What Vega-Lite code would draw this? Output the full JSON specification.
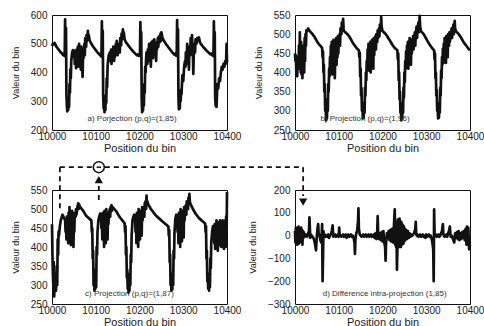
{
"$schema": "https://vega.github.io/schema/vega-lite/v6.json",
"background": "white",
"padding": {"left": 10, "top": 9, "right": 0, "bottom": 0},
"bounds": "flush",
"columns": 2,
"spacing": {"row": 60, "column": 68},
"config": {
 "view": {"stroke": "#111", "strokeWidth": 1},
 "axis": {"grid": false, "ticks": false, "domain": false, "labelFont": "Liberation Sans", "labelFontSize": 10, "labelColor": "#222", "titleFont": "Liberation Sans", "titleFontWeight": "normal", "titleColor": "#222", "format": "d", "labelFlush": false, "labelOverlap": false},
 "axisX": {"titleFontSize": 11, "labelPadding": 1, "titlePadding": 1},
 "axisY": {"titleFontSize": 9, "labelPadding": 5, "titlePadding": 10, "labelOverlap": false}
},
"datasets": {
"a": [{"x":10000,"y":492},{"x":10002,"y":500},{"x":10004,"y":498},{"x":10006,"y":503},{"x":10008,"y":497},{"x":10010,"y":490},{"x":10012,"y":486},{"x":10014,"y":482},{"x":10016,"y":478},{"x":10018,"y":474},{"x":10020,"y":470},{"x":10022,"y":468},{"x":10024,"y":463},{"x":10026,"y":460},{"x":10028,"y":466},{"x":10029,"y":457},{"x":10030,"y":585},{"x":10031,"y":470},{"x":10032,"y":555},{"x":10033,"y":320},{"x":10034,"y":285},{"x":10035,"y":265},{"x":10036,"y":310},{"x":10037,"y":270},{"x":10038,"y":300},{"x":10039,"y":280},{"x":10040,"y":360},{"x":10041,"y":330},{"x":10042,"y":410},{"x":10043,"y":380},{"x":10044,"y":440},{"x":10046,"y":470},{"x":10048,"y":478},{"x":10050,"y":455},{"x":10051,"y":475},{"x":10052,"y":430},{"x":10054,"y":470},{"x":10055,"y":415},{"x":10056,"y":480},{"x":10058,"y":420},{"x":10059,"y":490},{"x":10060,"y":445},{"x":10062,"y":500},{"x":10063,"y":420},{"x":10064,"y":470},{"x":10066,"y":410},{"x":10067,"y":490},{"x":10068,"y":440},{"x":10070,"y":385},{"x":10071,"y":470},{"x":10072,"y":450},{"x":10074,"y":500},{"x":10075,"y":460},{"x":10076,"y":520},{"x":10078,"y":490},{"x":10079,"y":530},{"x":10080,"y":510},{"x":10082,"y":545},{"x":10083,"y":515},{"x":10084,"y":530},{"x":10086,"y":512},{"x":10088,"y":505},{"x":10090,"y":500},{"x":10092,"y":495},{"x":10094,"y":490},{"x":10096,"y":486},{"x":10098,"y":482},{"x":10100,"y":478},{"x":10102,"y":474},{"x":10104,"y":470},{"x":10106,"y":467},{"x":10108,"y":463},{"x":10110,"y":460},{"x":10112,"y":462},{"x":10113,"y":455},{"x":10114,"y":578},{"x":10115,"y":470},{"x":10116,"y":545},{"x":10117,"y":320},{"x":10118,"y":275},{"x":10119,"y":300},{"x":10120,"y":262},{"x":10121,"y":310},{"x":10122,"y":270},{"x":10123,"y":320},{"x":10124,"y":295},{"x":10125,"y":380},{"x":10126,"y":350},{"x":10127,"y":420},{"x":10128,"y":440},{"x":10130,"y":462},{"x":10131,"y":440},{"x":10132,"y":470},{"x":10134,"y":445},{"x":10135,"y":480},{"x":10136,"y":430},{"x":10138,"y":475},{"x":10139,"y":450},{"x":10140,"y":490},{"x":10142,"y":440},{"x":10143,"y":485},{"x":10144,"y":455},{"x":10146,"y":500},{"x":10147,"y":470},{"x":10148,"y":510},{"x":10150,"y":460},{"x":10151,"y":495},{"x":10152,"y":480},{"x":10154,"y":500},{"x":10155,"y":470},{"x":10156,"y":520},{"x":10158,"y":495},{"x":10159,"y":535},{"x":10160,"y":515},{"x":10162,"y":550},{"x":10163,"y":520},{"x":10164,"y":540},{"x":10166,"y":515},{"x":10168,"y":508},{"x":10170,"y":503},{"x":10172,"y":499},{"x":10174,"y":495},{"x":10176,"y":491},{"x":10178,"y":487},{"x":10180,"y":483},{"x":10182,"y":479},{"x":10184,"y":476},{"x":10186,"y":472},{"x":10188,"y":469},{"x":10190,"y":466},{"x":10192,"y":463},{"x":10194,"y":460},{"x":10196,"y":463},{"x":10198,"y":458},{"x":10200,"y":460},{"x":10201,"y":458},{"x":10202,"y":575},{"x":10203,"y":470},{"x":10204,"y":540},{"x":10205,"y":310},{"x":10206,"y":262},{"x":10207,"y":300},{"x":10208,"y":268},{"x":10209,"y":320},{"x":10210,"y":285},{"x":10211,"y":360},{"x":10212,"y":330},{"x":10213,"y":420},{"x":10214,"y":400},{"x":10215,"y":445},{"x":10216,"y":470},{"x":10218,"y":430},{"x":10219,"y":480},{"x":10220,"y":455},{"x":10222,"y":500},{"x":10223,"y":440},{"x":10224,"y":485},{"x":10226,"y":420},{"x":10227,"y":505},{"x":10228,"y":470},{"x":10230,"y":510},{"x":10231,"y":450},{"x":10232,"y":490},{"x":10234,"y":515},{"x":10235,"y":470},{"x":10236,"y":500},{"x":10238,"y":440},{"x":10239,"y":505},{"x":10240,"y":480},{"x":10242,"y":520},{"x":10243,"y":490},{"x":10244,"y":525},{"x":10246,"y":505},{"x":10248,"y":535},{"x":10249,"y":510},{"x":10250,"y":540},{"x":10252,"y":525},{"x":10254,"y":515},{"x":10256,"y":510},{"x":10258,"y":505},{"x":10260,"y":500},{"x":10262,"y":496},{"x":10264,"y":492},{"x":10266,"y":488},{"x":10268,"y":484},{"x":10270,"y":480},{"x":10272,"y":476},{"x":10274,"y":472},{"x":10276,"y":468},{"x":10278,"y":465},{"x":10280,"y":462},{"x":10282,"y":466},{"x":10284,"y":458},{"x":10285,"y":460},{"x":10286,"y":582},{"x":10287,"y":470},{"x":10288,"y":550},{"x":10289,"y":320},{"x":10290,"y":272},{"x":10291,"y":310},{"x":10292,"y":275},{"x":10293,"y":330},{"x":10294,"y":300},{"x":10295,"y":340},{"x":10296,"y":325},{"x":10298,"y":390},{"x":10300,"y":370},{"x":10302,"y":420},{"x":10304,"y":440},{"x":10305,"y":420},{"x":10306,"y":470},{"x":10308,"y":430},{"x":10309,"y":500},{"x":10310,"y":445},{"x":10312,"y":480},{"x":10313,"y":410},{"x":10314,"y":490},{"x":10316,"y":460},{"x":10317,"y":520},{"x":10318,"y":480},{"x":10320,"y":530},{"x":10321,"y":490},{"x":10322,"y":470},{"x":10323,"y":395},{"x":10324,"y":460},{"x":10326,"y":500},{"x":10327,"y":470},{"x":10328,"y":515},{"x":10330,"y":500},{"x":10332,"y":520},{"x":10334,"y":510},{"x":10336,"y":522},{"x":10338,"y":505},{"x":10340,"y":500},{"x":10342,"y":496},{"x":10344,"y":492},{"x":10346,"y":488},{"x":10348,"y":485},{"x":10350,"y":482},{"x":10352,"y":478},{"x":10354,"y":475},{"x":10356,"y":472},{"x":10358,"y":469},{"x":10360,"y":466},{"x":10362,"y":463},{"x":10364,"y":466},{"x":10366,"y":460},{"x":10368,"y":462},{"x":10369,"y":457},{"x":10370,"y":578},{"x":10371,"y":470},{"x":10372,"y":540},{"x":10373,"y":310},{"x":10374,"y":285},{"x":10375,"y":330},{"x":10376,"y":280},{"x":10377,"y":320},{"x":10378,"y":360},{"x":10380,"y":345},{"x":10382,"y":380},{"x":10384,"y":370},{"x":10386,"y":400},{"x":10388,"y":420},{"x":10390,"y":410},{"x":10392,"y":430},{"x":10394,"y":420},{"x":10396,"y":440},{"x":10397,"y":430},{"x":10398,"y":440},{"x":10399,"y":500},{"x":10400,"y":435}],
"b": [{"x":10000,"y":450},{"x":10001,"y":430},{"x":10002,"y":445},{"x":10003,"y":400},{"x":10004,"y":430},{"x":10005,"y":390},{"x":10006,"y":440},{"x":10008,"y":410},{"x":10009,"y":470},{"x":10010,"y":420},{"x":10011,"y":505},{"x":10012,"y":440},{"x":10013,"y":400},{"x":10014,"y":480},{"x":10015,"y":395},{"x":10016,"y":470},{"x":10017,"y":385},{"x":10018,"y":450},{"x":10019,"y":410},{"x":10020,"y":470},{"x":10021,"y":400},{"x":10022,"y":490},{"x":10023,"y":430},{"x":10024,"y":500},{"x":10025,"y":470},{"x":10026,"y":510},{"x":10028,"y":508},{"x":10030,"y":515},{"x":10032,"y":510},{"x":10034,"y":508},{"x":10036,"y":505},{"x":10038,"y":503},{"x":10040,"y":500},{"x":10042,"y":497},{"x":10044,"y":494},{"x":10046,"y":490},{"x":10048,"y":486},{"x":10050,"y":482},{"x":10052,"y":478},{"x":10054,"y":475},{"x":10056,"y":472},{"x":10058,"y":470},{"x":10060,"y":467},{"x":10062,"y":464},{"x":10063,"y":440},{"x":10064,"y":455},{"x":10065,"y":400},{"x":10066,"y":420},{"x":10067,"y":350},{"x":10068,"y":370},{"x":10069,"y":300},{"x":10070,"y":320},{"x":10071,"y":275},{"x":10072,"y":295},{"x":10073,"y":280},{"x":10074,"y":330},{"x":10075,"y":300},{"x":10076,"y":370},{"x":10077,"y":350},{"x":10078,"y":410},{"x":10079,"y":390},{"x":10080,"y":440},{"x":10081,"y":420},{"x":10082,"y":470},{"x":10083,"y":410},{"x":10084,"y":480},{"x":10085,"y":395},{"x":10086,"y":460},{"x":10087,"y":420},{"x":10088,"y":485},{"x":10089,"y":400},{"x":10090,"y":470},{"x":10091,"y":385},{"x":10092,"y":450},{"x":10093,"y":430},{"x":10094,"y":490},{"x":10095,"y":420},{"x":10096,"y":475},{"x":10097,"y":440},{"x":10098,"y":495},{"x":10099,"y":450},{"x":10100,"y":480},{"x":10102,"y":500},{"x":10103,"y":470},{"x":10104,"y":515},{"x":10106,"y":500},{"x":10107,"y":530},{"x":10108,"y":510},{"x":10110,"y":540},{"x":10111,"y":515},{"x":10112,"y":508},{"x":10114,"y":506},{"x":10116,"y":504},{"x":10118,"y":502},{"x":10120,"y":500},{"x":10122,"y":497},{"x":10124,"y":494},{"x":10126,"y":490},{"x":10128,"y":486},{"x":10130,"y":482},{"x":10132,"y":478},{"x":10134,"y":474},{"x":10136,"y":471},{"x":10138,"y":468},{"x":10140,"y":465},{"x":10142,"y":462},{"x":10144,"y":460},{"x":10146,"y":458},{"x":10147,"y":440},{"x":10148,"y":452},{"x":10149,"y":390},{"x":10150,"y":410},{"x":10151,"y":340},{"x":10152,"y":360},{"x":10153,"y":300},{"x":10154,"y":320},{"x":10155,"y":280},{"x":10156,"y":300},{"x":10157,"y":282},{"x":10158,"y":320},{"x":10159,"y":295},{"x":10160,"y":360},{"x":10161,"y":340},{"x":10162,"y":400},{"x":10163,"y":380},{"x":10164,"y":430},{"x":10165,"y":410},{"x":10166,"y":460},{"x":10167,"y":420},{"x":10168,"y":475},{"x":10169,"y":405},{"x":10170,"y":470},{"x":10171,"y":430},{"x":10172,"y":480},{"x":10173,"y":400},{"x":10174,"y":465},{"x":10175,"y":420},{"x":10176,"y":485},{"x":10177,"y":440},{"x":10178,"y":470},{"x":10179,"y":410},{"x":10180,"y":490},{"x":10181,"y":445},{"x":10182,"y":475},{"x":10184,"y":495},{"x":10185,"y":460},{"x":10186,"y":500},{"x":10188,"y":480},{"x":10189,"y":510},{"x":10190,"y":490},{"x":10192,"y":515},{"x":10193,"y":495},{"x":10194,"y":525},{"x":10196,"y":510},{"x":10197,"y":545},{"x":10198,"y":520},{"x":10200,"y":508},{"x":10202,"y":506},{"x":10204,"y":504},{"x":10206,"y":502},{"x":10208,"y":499},{"x":10210,"y":496},{"x":10212,"y":492},{"x":10214,"y":488},{"x":10216,"y":485},{"x":10218,"y":481},{"x":10220,"y":477},{"x":10222,"y":473},{"x":10224,"y":470},{"x":10226,"y":467},{"x":10228,"y":464},{"x":10230,"y":462},{"x":10232,"y":460},{"x":10234,"y":458},{"x":10235,"y":435},{"x":10236,"y":450},{"x":10237,"y":380},{"x":10238,"y":400},{"x":10239,"y":330},{"x":10240,"y":350},{"x":10241,"y":295},{"x":10242,"y":310},{"x":10243,"y":275},{"x":10244,"y":295},{"x":10245,"y":280},{"x":10246,"y":320},{"x":10247,"y":295},{"x":10248,"y":360},{"x":10249,"y":335},{"x":10250,"y":400},{"x":10251,"y":375},{"x":10252,"y":430},{"x":10253,"y":410},{"x":10254,"y":455},{"x":10255,"y":415},{"x":10256,"y":470},{"x":10257,"y":420},{"x":10258,"y":480},{"x":10259,"y":410},{"x":10260,"y":465},{"x":10261,"y":430},{"x":10262,"y":490},{"x":10263,"y":440},{"x":10264,"y":475},{"x":10265,"y":420},{"x":10266,"y":485},{"x":10267,"y":450},{"x":10268,"y":470},{"x":10270,"y":495},{"x":10271,"y":460},{"x":10272,"y":490},{"x":10274,"y":505},{"x":10275,"y":470},{"x":10276,"y":500},{"x":10278,"y":520},{"x":10279,"y":490},{"x":10280,"y":510},{"x":10282,"y":530},{"x":10283,"y":505},{"x":10285,"y":548},{"x":10286,"y":520},{"x":10288,"y":508},{"x":10290,"y":505},{"x":10292,"y":503},{"x":10294,"y":500},{"x":10296,"y":496},{"x":10298,"y":492},{"x":10300,"y":488},{"x":10302,"y":484},{"x":10304,"y":480},{"x":10306,"y":476},{"x":10308,"y":472},{"x":10310,"y":469},{"x":10312,"y":466},{"x":10314,"y":463},{"x":10316,"y":460},{"x":10318,"y":458},{"x":10319,"y":435},{"x":10320,"y":450},{"x":10321,"y":385},{"x":10322,"y":400},{"x":10323,"y":340},{"x":10324,"y":355},{"x":10325,"y":300},{"x":10326,"y":315},{"x":10327,"y":280},{"x":10328,"y":298},{"x":10329,"y":282},{"x":10330,"y":320},{"x":10331,"y":296},{"x":10332,"y":360},{"x":10333,"y":340},{"x":10334,"y":405},{"x":10335,"y":385},{"x":10336,"y":440},{"x":10337,"y":420},{"x":10338,"y":462},{"x":10339,"y":425},{"x":10340,"y":475},{"x":10341,"y":430},{"x":10342,"y":490},{"x":10343,"y":445},{"x":10344,"y":480},{"x":10345,"y":425},{"x":10346,"y":495},{"x":10347,"y":460},{"x":10348,"y":485},{"x":10349,"y":440},{"x":10350,"y":500},{"x":10352,"y":470},{"x":10353,"y":505},{"x":10354,"y":480},{"x":10356,"y":500},{"x":10358,"y":515},{"x":10359,"y":490},{"x":10360,"y":510},{"x":10362,"y":525},{"x":10363,"y":500},{"x":10365,"y":535},{"x":10366,"y":515},{"x":10368,"y":507},{"x":10370,"y":505},{"x":10372,"y":503},{"x":10374,"y":500},{"x":10376,"y":497},{"x":10378,"y":494},{"x":10380,"y":490},{"x":10382,"y":486},{"x":10384,"y":482},{"x":10386,"y":478},{"x":10388,"y":475},{"x":10390,"y":472},{"x":10392,"y":469},{"x":10394,"y":466},{"x":10396,"y":463},{"x":10398,"y":460},{"x":10400,"y":458}],
"c": [{"x":10000,"y":460},{"x":10001,"y":380},{"x":10002,"y":330},{"x":10003,"y":300},{"x":10004,"y":360},{"x":10005,"y":270},{"x":10006,"y":300},{"x":10007,"y":290},{"x":10008,"y":330},{"x":10009,"y":285},{"x":10010,"y":300},{"x":10011,"y":350},{"x":10012,"y":300},{"x":10013,"y":420},{"x":10014,"y":380},{"x":10015,"y":440},{"x":10016,"y":430},{"x":10018,"y":455},{"x":10020,"y":470},{"x":10022,"y":478},{"x":10024,"y":485},{"x":10026,"y":480},{"x":10028,"y":475},{"x":10030,"y":470},{"x":10031,"y":440},{"x":10032,"y":460},{"x":10033,"y":420},{"x":10034,"y":480},{"x":10035,"y":430},{"x":10036,"y":470},{"x":10037,"y":410},{"x":10038,"y":490},{"x":10039,"y":440},{"x":10040,"y":505},{"x":10041,"y":450},{"x":10042,"y":470},{"x":10043,"y":405},{"x":10044,"y":480},{"x":10045,"y":430},{"x":10046,"y":495},{"x":10047,"y":460},{"x":10048,"y":485},{"x":10049,"y":400},{"x":10050,"y":470},{"x":10051,"y":440},{"x":10052,"y":490},{"x":10054,"y":480},{"x":10055,"y":500},{"x":10056,"y":485},{"x":10058,"y":505},{"x":10060,"y":515},{"x":10061,"y":500},{"x":10062,"y":512},{"x":10064,"y":505},{"x":10066,"y":503},{"x":10068,"y":500},{"x":10070,"y":497},{"x":10072,"y":494},{"x":10074,"y":490},{"x":10076,"y":486},{"x":10078,"y":482},{"x":10080,"y":480},{"x":10082,"y":478},{"x":10084,"y":476},{"x":10086,"y":474},{"x":10088,"y":472},{"x":10090,"y":470},{"x":10091,"y":440},{"x":10092,"y":450},{"x":10093,"y":370},{"x":10094,"y":390},{"x":10095,"y":300},{"x":10096,"y":320},{"x":10097,"y":285},{"x":10098,"y":310},{"x":10099,"y":290},{"x":10100,"y":340},{"x":10101,"y":295},{"x":10102,"y":400},{"x":10103,"y":380},{"x":10104,"y":440},{"x":10106,"y":470},{"x":10108,"y":480},{"x":10110,"y":488},{"x":10112,"y":482},{"x":10113,"y":450},{"x":10114,"y":470},{"x":10115,"y":420},{"x":10116,"y":490},{"x":10117,"y":430},{"x":10118,"y":475},{"x":10119,"y":400},{"x":10120,"y":495},{"x":10121,"y":440},{"x":10122,"y":480},{"x":10123,"y":410},{"x":10124,"y":500},{"x":10125,"y":445},{"x":10126,"y":470},{"x":10127,"y":420},{"x":10128,"y":490},{"x":10129,"y":460},{"x":10130,"y":485},{"x":10132,"y":500},{"x":10133,"y":480},{"x":10134,"y":505},{"x":10136,"y":510},{"x":10137,"y":495},{"x":10138,"y":505},{"x":10140,"y":503},{"x":10142,"y":500},{"x":10144,"y":498},{"x":10146,"y":495},{"x":10148,"y":492},{"x":10150,"y":488},{"x":10152,"y":484},{"x":10154,"y":480},{"x":10156,"y":477},{"x":10158,"y":474},{"x":10160,"y":471},{"x":10162,"y":468},{"x":10164,"y":465},{"x":10166,"y":462},{"x":10167,"y":440},{"x":10168,"y":455},{"x":10169,"y":380},{"x":10170,"y":400},{"x":10171,"y":320},{"x":10172,"y":340},{"x":10173,"y":290},{"x":10174,"y":310},{"x":10175,"y":280},{"x":10176,"y":300},{"x":10177,"y":285},{"x":10178,"y":330},{"x":10179,"y":300},{"x":10180,"y":380},{"x":10181,"y":360},{"x":10182,"y":430},{"x":10184,"y":470},{"x":10186,"y":480},{"x":10188,"y":485},{"x":10190,"y":478},{"x":10191,"y":440},{"x":10192,"y":470},{"x":10193,"y":410},{"x":10194,"y":490},{"x":10195,"y":430},{"x":10196,"y":480},{"x":10197,"y":400},{"x":10198,"y":500},{"x":10199,"y":445},{"x":10200,"y":475},{"x":10201,"y":420},{"x":10202,"y":495},{"x":10203,"y":450},{"x":10204,"y":485},{"x":10205,"y":430},{"x":10206,"y":505},{"x":10207,"y":470},{"x":10208,"y":490},{"x":10210,"y":505},{"x":10211,"y":480},{"x":10212,"y":515},{"x":10214,"y":520},{"x":10215,"y":500},{"x":10216,"y":535},{"x":10217,"y":515},{"x":10218,"y":520},{"x":10220,"y":512},{"x":10222,"y":508},{"x":10224,"y":504},{"x":10226,"y":500},{"x":10228,"y":497},{"x":10230,"y":494},{"x":10232,"y":491},{"x":10234,"y":488},{"x":10236,"y":485},{"x":10238,"y":482},{"x":10240,"y":480},{"x":10242,"y":478},{"x":10244,"y":476},{"x":10246,"y":474},{"x":10248,"y":472},{"x":10250,"y":470},{"x":10252,"y":468},{"x":10254,"y":466},{"x":10256,"y":464},{"x":10258,"y":462},{"x":10260,"y":460},{"x":10262,"y":458},{"x":10264,"y":456},{"x":10266,"y":454},{"x":10267,"y":430},{"x":10268,"y":445},{"x":10269,"y":360},{"x":10270,"y":380},{"x":10271,"y":300},{"x":10272,"y":320},{"x":10273,"y":285},{"x":10274,"y":305},{"x":10275,"y":288},{"x":10276,"y":330},{"x":10277,"y":300},{"x":10278,"y":390},{"x":10279,"y":370},{"x":10280,"y":440},{"x":10282,"y":475},{"x":10284,"y":485},{"x":10286,"y":480},{"x":10287,"y":440},{"x":10288,"y":475},{"x":10289,"y":410},{"x":10290,"y":490},{"x":10291,"y":430},{"x":10292,"y":480},{"x":10293,"y":400},{"x":10294,"y":500},{"x":10295,"y":445},{"x":10296,"y":470},{"x":10297,"y":415},{"x":10298,"y":495},{"x":10299,"y":455},{"x":10300,"y":480},{"x":10301,"y":425},{"x":10302,"y":505},{"x":10303,"y":470},{"x":10304,"y":490},{"x":10306,"y":510},{"x":10307,"y":485},{"x":10308,"y":520},{"x":10310,"y":515},{"x":10311,"y":500},{"x":10312,"y":530},{"x":10313,"y":515},{"x":10314,"y":540},{"x":10315,"y":520},{"x":10316,"y":515},{"x":10318,"y":510},{"x":10320,"y":505},{"x":10322,"y":500},{"x":10324,"y":496},{"x":10326,"y":492},{"x":10328,"y":488},{"x":10330,"y":485},{"x":10332,"y":482},{"x":10334,"y":479},{"x":10336,"y":476},{"x":10338,"y":474},{"x":10340,"y":472},{"x":10342,"y":470},{"x":10344,"y":468},{"x":10346,"y":466},{"x":10348,"y":464},{"x":10350,"y":462},{"x":10351,"y":440},{"x":10352,"y":455},{"x":10353,"y":370},{"x":10354,"y":390},{"x":10355,"y":310},{"x":10356,"y":330},{"x":10357,"y":290},{"x":10358,"y":305},{"x":10359,"y":285},{"x":10360,"y":320},{"x":10361,"y":295},{"x":10362,"y":370},{"x":10363,"y":345},{"x":10364,"y":410},{"x":10366,"y":440},{"x":10368,"y":455},{"x":10370,"y":445},{"x":10371,"y":410},{"x":10372,"y":460},{"x":10373,"y":395},{"x":10374,"y":450},{"x":10375,"y":420},{"x":10376,"y":470},{"x":10377,"y":400},{"x":10378,"y":455},{"x":10379,"y":390},{"x":10380,"y":465},{"x":10381,"y":430},{"x":10382,"y":460},{"x":10383,"y":405},{"x":10384,"y":470},{"x":10385,"y":440},{"x":10386,"y":455},{"x":10387,"y":400},{"x":10388,"y":465},{"x":10389,"y":430},{"x":10390,"y":470},{"x":10391,"y":420},{"x":10392,"y":460},{"x":10393,"y":395},{"x":10394,"y":450},{"x":10395,"y":430},{"x":10396,"y":470},{"x":10397,"y":400},{"x":10398,"y":480},{"x":10399,"y":420},{"x":10400,"y":545}],
"d": [{"x":10000,"y":20},{"x":10001,"y":-30},{"x":10002,"y":35},{"x":10003,"y":-25},{"x":10004,"y":30},{"x":10005,"y":-40},{"x":10006,"y":25},{"x":10007,"y":-20},{"x":10008,"y":40},{"x":10009,"y":-35},{"x":10010,"y":30},{"x":10011,"y":-30},{"x":10012,"y":20},{"x":10013,"y":-25},{"x":10014,"y":35},{"x":10015,"y":-15},{"x":10016,"y":25},{"x":10017,"y":-40},{"x":10018,"y":20},{"x":10019,"y":-10},{"x":10020,"y":15},{"x":10022,"y":-5},{"x":10024,"y":5},{"x":10026,"y":0},{"x":10028,"y":-5},{"x":10030,"y":10},{"x":10032,"y":20},{"x":10033,"y":80},{"x":10034,"y":30},{"x":10035,"y":-10},{"x":10036,"y":5},{"x":10038,"y":0},{"x":10040,"y":-5},{"x":10042,"y":-10},{"x":10044,"y":-20},{"x":10046,"y":-40},{"x":10048,"y":-65},{"x":10049,"y":-30},{"x":10050,"y":0},{"x":10052,"y":40},{"x":10053,"y":50},{"x":10054,"y":10},{"x":10056,"y":0},{"x":10058,"y":-20},{"x":10060,"y":-30},{"x":10061,"y":0},{"x":10062,"y":50},{"x":10063,"y":-200},{"x":10064,"y":-100},{"x":10065,"y":20},{"x":10066,"y":0},{"x":10068,"y":5},{"x":10070,"y":-5},{"x":10072,"y":0},{"x":10074,"y":-5},{"x":10076,"y":5},{"x":10078,"y":-10},{"x":10080,"y":0},{"x":10082,"y":5},{"x":10084,"y":20},{"x":10086,"y":45},{"x":10087,"y":10},{"x":10088,"y":-5},{"x":10090,"y":0},{"x":10092,"y":5},{"x":10094,"y":-5},{"x":10096,"y":0},{"x":10098,"y":5},{"x":10100,"y":-5},{"x":10101,"y":35},{"x":10102,"y":5},{"x":10104,"y":0},{"x":10106,"y":-5},{"x":10108,"y":0},{"x":10110,"y":5},{"x":10112,"y":-5},{"x":10114,"y":0},{"x":10116,"y":5},{"x":10118,"y":-10},{"x":10120,"y":0},{"x":10122,"y":5},{"x":10124,"y":-5},{"x":10126,"y":0},{"x":10128,"y":5},{"x":10130,"y":-5},{"x":10132,"y":0},{"x":10134,"y":-10},{"x":10136,"y":-30},{"x":10137,"y":-80},{"x":10138,"y":-20},{"x":10140,"y":10},{"x":10142,"y":20},{"x":10144,"y":60},{"x":10145,"y":120},{"x":10146,"y":30},{"x":10148,"y":5},{"x":10150,"y":0},{"x":10152,"y":-5},{"x":10154,"y":0},{"x":10156,"y":5},{"x":10158,"y":-5},{"x":10160,"y":0},{"x":10162,"y":5},{"x":10164,"y":-5},{"x":10166,"y":0},{"x":10168,"y":5},{"x":10170,"y":-5},{"x":10172,"y":0},{"x":10174,"y":5},{"x":10176,"y":-5},{"x":10178,"y":0},{"x":10180,"y":5},{"x":10182,"y":-10},{"x":10184,"y":10},{"x":10186,"y":-15},{"x":10188,"y":20},{"x":10189,"y":85},{"x":10190,"y":10},{"x":10192,"y":-15},{"x":10194,"y":10},{"x":10196,"y":-20},{"x":10198,"y":15},{"x":10200,"y":-25},{"x":10202,"y":20},{"x":10204,"y":-30},{"x":10206,"y":-50},{"x":10207,"y":-110},{"x":10208,"y":-40},{"x":10210,"y":10},{"x":10212,"y":-10},{"x":10214,"y":20},{"x":10216,"y":-20},{"x":10218,"y":25},{"x":10220,"y":-25},{"x":10222,"y":30},{"x":10224,"y":-30},{"x":10226,"y":40},{"x":10228,"y":115},{"x":10229,"y":-40},{"x":10230,"y":60},{"x":10231,"y":-50},{"x":10232,"y":40},{"x":10233,"y":-150},{"x":10234,"y":-60},{"x":10235,"y":70},{"x":10236,"y":-40},{"x":10237,"y":60},{"x":10238,"y":-50},{"x":10239,"y":75},{"x":10240,"y":-30},{"x":10241,"y":50},{"x":10242,"y":-50},{"x":10243,"y":60},{"x":10244,"y":-40},{"x":10245,"y":50},{"x":10246,"y":-30},{"x":10247,"y":45},{"x":10248,"y":-35},{"x":10249,"y":40},{"x":10250,"y":-25},{"x":10251,"y":30},{"x":10252,"y":-20},{"x":10254,"y":25},{"x":10256,"y":-15},{"x":10258,"y":20},{"x":10260,"y":-10},{"x":10262,"y":10},{"x":10264,"y":-5},{"x":10266,"y":5},{"x":10268,"y":0},{"x":10270,"y":5},{"x":10272,"y":10},{"x":10275,"y":30},{"x":10276,"y":60},{"x":10277,"y":10},{"x":10278,"y":0},{"x":10280,"y":5},{"x":10282,"y":-5},{"x":10284,"y":0},{"x":10286,"y":5},{"x":10288,"y":-5},{"x":10290,"y":0},{"x":10292,"y":5},{"x":10294,"y":-5},{"x":10296,"y":0},{"x":10298,"y":-10},{"x":10300,"y":5},{"x":10302,"y":-5},{"x":10304,"y":0},{"x":10306,"y":5},{"x":10308,"y":-5},{"x":10310,"y":0},{"x":10312,"y":-10},{"x":10314,"y":-30},{"x":10316,"y":-60},{"x":10317,"y":-200},{"x":10318,"y":115},{"x":10319,"y":10},{"x":10320,"y":0},{"x":10322,"y":5},{"x":10324,"y":-5},{"x":10326,"y":0},{"x":10328,"y":5},{"x":10330,"y":-5},{"x":10332,"y":0},{"x":10334,"y":10},{"x":10336,"y":20},{"x":10338,"y":50},{"x":10339,"y":10},{"x":10340,"y":0},{"x":10342,"y":-5},{"x":10344,"y":0},{"x":10346,"y":5},{"x":10348,"y":-5},{"x":10350,"y":10},{"x":10352,"y":20},{"x":10354,"y":40},{"x":10355,"y":10},{"x":10356,"y":-5},{"x":10358,"y":0},{"x":10360,"y":-10},{"x":10362,"y":-20},{"x":10364,"y":-30},{"x":10366,"y":10},{"x":10368,"y":-10},{"x":10370,"y":15},{"x":10372,"y":-15},{"x":10374,"y":20},{"x":10376,"y":-20},{"x":10378,"y":10},{"x":10380,"y":-15},{"x":10382,"y":15},{"x":10384,"y":-10},{"x":10386,"y":20},{"x":10388,"y":-20},{"x":10390,"y":30},{"x":10392,"y":-40},{"x":10393,"y":40},{"x":10394,"y":-30},{"x":10396,"y":35},{"x":10398,"y":-60},{"x":10400,"y":-40}]
},
"concat": [
  {"width": 175, "height": 115, "layer": [
   {"data": {"name": "a"}, "mark": {"type": "line", "color": "#111", "strokeWidth": 2.7, "strokeJoin": "round"},
    "encoding": {"x": {"field": "x", "type": "quantitative", "scale": {"domain": [10000, 10400], "nice": false, "zero": false}, "axis": {"values": [10000, 10100, 10200, 10300, 10400], "tickCount": 5, "title": "Position du bin", "labelOverlap": false}},
                 "y": {"field": "y", "type": "quantitative", "scale": {"domain": [200, 600], "nice": false, "zero": false}, "axis": {"values": [200, 300, 400, 500, 600], "tickCount": 5, "title": "Valeur du bin", "labelOverlap": false}}}},
   {"data": {"values": [{"x": 10183, "y": 238, "t": "a) Porjection (p,q)=(1,85)"}]}, "mark": {"type": "text", "font": "Liberation Sans", "fontSize": 8, "color": "#333"},
    "encoding": {"x": {"field": "x", "type": "quantitative"}, "y": {"field": "y", "type": "quantitative"}, "text": {"field": "t"}}}
  ]},
  {"width": 175, "height": 115, "layer": [
   {"data": {"name": "b"}, "mark": {"type": "line", "color": "#111", "strokeWidth": 2.7, "strokeJoin": "round"},
    "encoding": {"x": {"field": "x", "type": "quantitative", "scale": {"domain": [10000, 10400], "nice": false, "zero": false}, "axis": {"values": [10000, 10100, 10200, 10300, 10400], "tickCount": 5, "title": "Position du bin", "labelOverlap": false}},
                 "y": {"field": "y", "type": "quantitative", "scale": {"domain": [250, 550], "nice": false, "zero": false}, "axis": {"values": [250, 300, 350, 400, 450, 500, 550], "tickCount": 7, "title": "Valeur du bin", "labelOverlap": false}}}},
   {"data": {"values": [{"x": 10160, "y": 279, "t": "b) Projection (p,q)=(1,96)"}]}, "mark": {"type": "text", "font": "Liberation Sans", "fontSize": 8, "color": "#333"},
    "encoding": {"x": {"field": "x", "type": "quantitative"}, "y": {"field": "y", "type": "quantitative"}, "text": {"field": "t"}}}
  ]},
  {"width": 175, "height": 114, "layer": [
   {"data": {"name": "c"}, "mark": {"type": "line", "color": "#111", "strokeWidth": 2.7, "strokeJoin": "round"},
    "encoding": {"x": {"field": "x", "type": "quantitative", "scale": {"domain": [10000, 10400], "nice": false, "zero": false}, "axis": {"values": [10000, 10100, 10200, 10300, 10400], "tickCount": 5, "title": "Position du bin", "labelOverlap": false}},
                 "y": {"field": "y", "type": "quantitative", "scale": {"domain": [250, 550], "nice": false, "zero": false}, "axis": {"values": [250, 300, 350, 400, 450, 500, 550], "tickCount": 7, "title": "Valeur du bin", "labelOverlap": false}}}},
   {"data": {"values": [{"x": 10177, "y": 277, "t": "c) Projection (p,q)=(1,87)"}]}, "mark": {"type": "text", "font": "Liberation Sans", "fontSize": 8, "color": "#333"},
    "encoding": {"x": {"field": "x", "type": "quantitative"}, "y": {"field": "y", "type": "quantitative"}, "text": {"field": "t"}}},
   {"data": {"values": [{"x": 10018, "x2": 10018, "y": 610, "y2": 497}, {"x": 10018, "x2": 10574, "y": 610, "y2": 610}, {"x": 10574, "x2": 10574, "y": 610, "y2": 534}, {"x": 10107, "x2": 10107, "y": 524, "y2": 568}]},
    "mark": {"type": "rule", "color": "#111", "strokeWidth": 1.8, "strokeDash": [5, 4]},
    "encoding": {"x": {"field": "x", "type": "quantitative"}, "x2": {"field": "x2"}, "y": {"field": "y", "type": "quantitative"}, "y2": {"field": "y2"}}},
   {"data": {"values": [{"x": 10107, "y": 577, "s": "triangle-up"}, {"x": 10574, "y": 518, "s": "triangle-down"}]},
    "mark": {"type": "point", "filled": true, "color": "#111", "opacity": 1, "size": 70},
    "encoding": {"x": {"field": "x", "type": "quantitative"}, "y": {"field": "y", "type": "quantitative"}, "shape": {"field": "s", "type": "nominal", "scale": null}}},
   {"data": {"values": [{"x": 10107, "y": 610}]},
    "mark": {"type": "point", "shape": "circle", "filled": true, "fill": "white", "stroke": "#111", "strokeWidth": 1.5, "opacity": 1, "size": 120},
    "encoding": {"x": {"field": "x", "type": "quantitative"}, "y": {"field": "y", "type": "quantitative"}}},
   {"data": {"values": [{"x": 10102, "x2": 10112, "y": 610}]},
    "mark": {"type": "rule", "color": "#111", "strokeWidth": 1.5},
    "encoding": {"x": {"field": "x", "type": "quantitative"}, "x2": {"field": "x2"}, "y": {"field": "y", "type": "quantitative"}}}
  ]},
  {"width": 175, "height": 114, "layer": [
   {"data": {"name": "d"}, "mark": {"type": "line", "color": "#111", "strokeWidth": 2.7, "strokeJoin": "round"},
    "encoding": {"x": {"field": "x", "type": "quantitative", "scale": {"domain": [10000, 10400], "nice": false, "zero": false}, "axis": {"values": [10000, 10100, 10200, 10300, 10400], "tickCount": 5, "title": "Position du bin", "labelOverlap": false}},
                 "y": {"field": "y", "type": "quantitative", "scale": {"domain": [-300, 200], "nice": false, "zero": false}, "axis": {"values": [-300, -200, -100, 0, 100, 200], "tickCount": 6, "title": "Valeur du bin", "labelOverlap": false}}}},
   {"data": {"values": [{"x": 10205, "y": -256, "t": "d) Différence intra-projection (1,85)"}]}, "mark": {"type": "text", "font": "Liberation Sans", "fontSize": 8, "color": "#333"},
    "encoding": {"x": {"field": "x", "type": "quantitative"}, "y": {"field": "y", "type": "quantitative"}, "text": {"field": "t"}}}
  ]}
]
}
